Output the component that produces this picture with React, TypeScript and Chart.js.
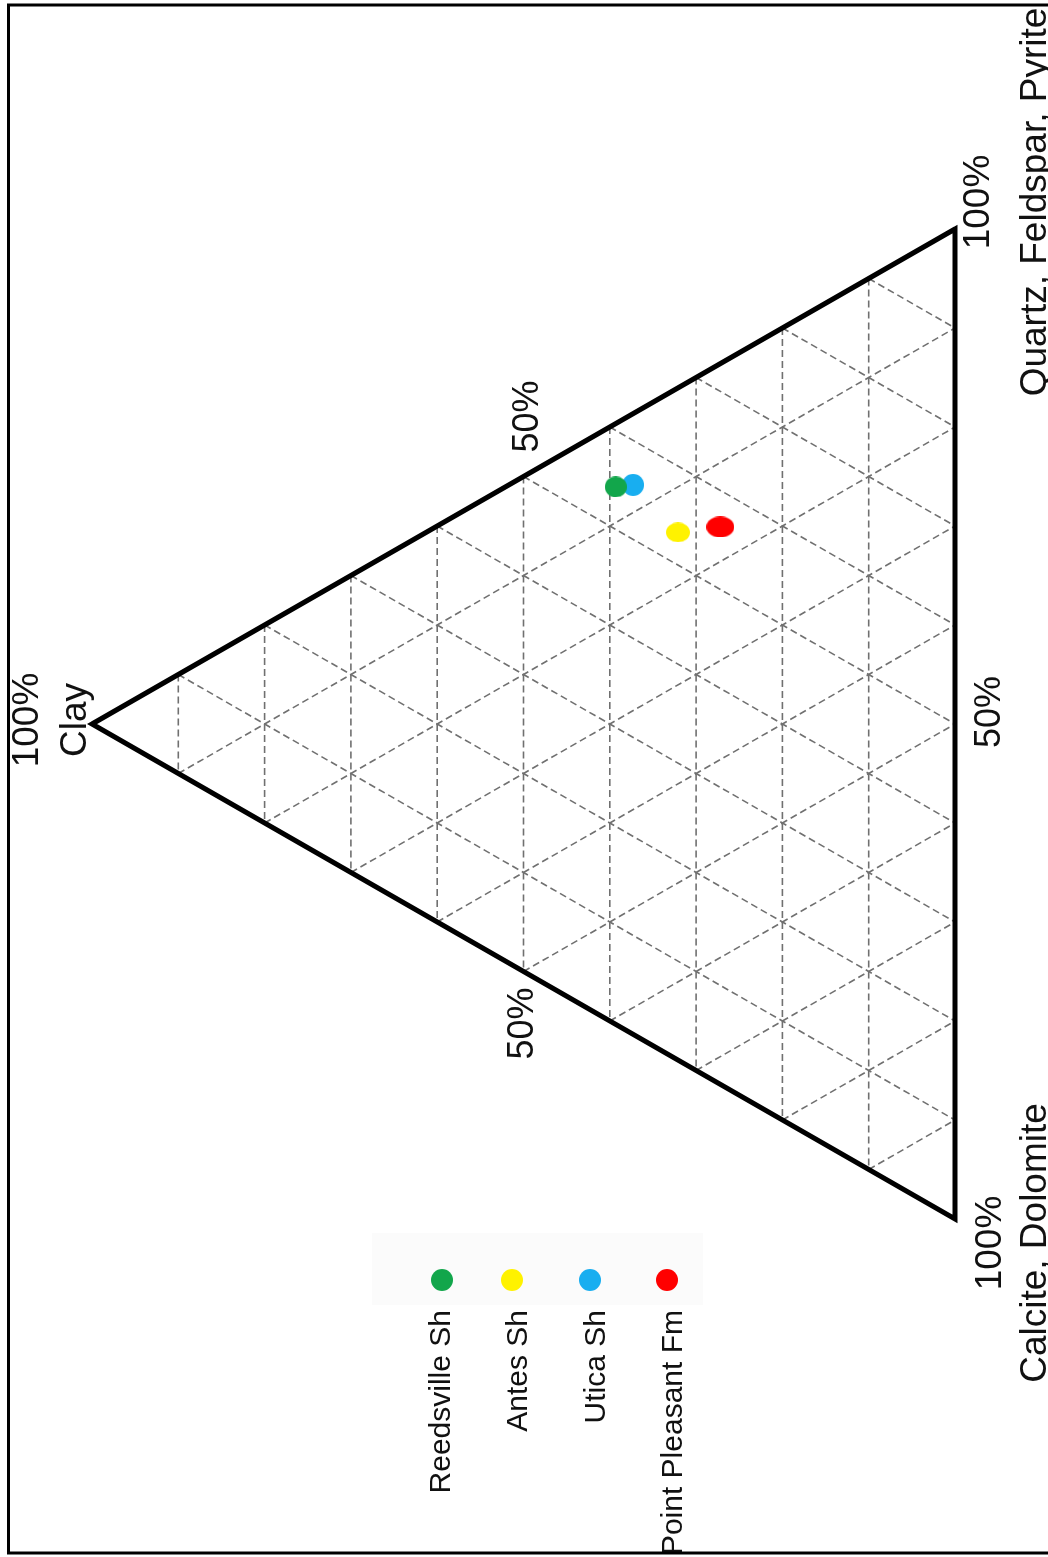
import React, { useEffect, useRef } from "react";
import { Chart, registerables } from "chart.js";

Chart.register(...registerables);

// ---- Data (percent composition) ----
const samples = ["Reedsville Sh", "Antes Sh", "Utica Sh", "Point Pleasant Fm"];
const clayPct = [39.3, 32.1, 37.3, 27.2];
const qfpPct = [54.3, 53.3, 55.5, 56.3];
const carbPct = [6.4, 14.6, 7.2, 16.5];
const sampleColors = ["#12a64b", "#fff200", "#18aef0", "#ff0000"];
// marker sizes (w, h) in px
const markerW = [22, 24, 22, 28];
const markerH = [21, 20, 22, 21];

const gridPct = [10, 20, 30, 40, 50, 60, 70, 80, 90];
const vertexNames = ["Clay", "Quartz, Feldspar, Pyrite", "Calcite, Dolomite"];
const vertexPct = "100%";
const sideLabel = "50%";

// ternary -> cartesian (Clay at left, QFP top-right, carbonate bottom-right)
function toXY(c: number, q: number, k: number) {
  const s = c + q + k;
  return { x: (q + k) / s, y: (0.5 * c + q) / s };
}

const FONT = '"Liberation Sans", Arial, Helvetica, sans-serif';

function vtext(ctx: CanvasRenderingContext2D, text: string, x: number, y: number, size: number, align: CanvasTextAlign) {
  ctx.save();
  ctx.translate(x, y);
  ctx.rotate(-Math.PI / 2);
  ctx.font = `${size}px ${FONT}`;
  ctx.textAlign = align;
  ctx.textBaseline = "alphabetic";
  ctx.fillStyle = "#111111";
  ctx.fillText(text, 0, 0);
  ctx.restore();
}

function makeMarker(color: string, w: number, h: number) {
  const cv = document.createElement("canvas");
  cv.width = w;
  cv.height = h;
  const c = cv.getContext("2d")!;
  c.fillStyle = color;
  c.beginPath();
  c.ellipse(w / 2, h / 2, w / 2, h / 2, 0, 0, Math.PI * 2);
  c.fill();
  return cv;
}

const decorPlugin = {
  id: "ternaryDecor",
  beforeDraw(chart: any) {
    const ctx: CanvasRenderingContext2D = chart.ctx;
    ctx.save();
    ctx.fillStyle = "#ffffff";
    ctx.fillRect(0, 0, chart.width, chart.height);
    // legend background
    ctx.fillStyle = "#fbfbfb";
    ctx.fillRect(372, 1233, 331, 72);
    ctx.restore();
  },
  afterDraw(chart: any) {
    const ctx: CanvasRenderingContext2D = chart.ctx;
    const xs = chart.scales.x;
    const ys = chart.scales.y;
    const px = (c: number, q: number, k: number) => {
      const p = toXY(c, q, k);
      return [xs.getPixelForValue(p.x), ys.getPixelForValue(p.y)];
    };
    const clayV = px(100, 0, 0);
    const qV = px(0, 100, 0);
    const kV = px(0, 0, 100);
    const mCQ = px(50, 50, 0);
    const mCK = px(50, 0, 50);
    const mQK = px(0, 50, 50);

    ctx.save();
    ctx.beginPath();
    ctx.rect(10, 6, chart.width, 1546);
    ctx.clip();

    // vertex labels
    vtext(ctx, vertexPct, clayV[0] - 54, clayV[1] - 4, 37, "center");
    vtext(ctx, vertexNames[0], clayV[0] - 6, clayV[1] - 4, 37, "center");
    vtext(ctx, vertexPct, qV[0] + 34, qV[1] - 27, 37, "center");
    vtext(ctx, vertexNames[1], qV[0] + 91, qV[1] - 27, 37, "center");
    vtext(ctx, vertexPct, kV[0] + 46, kV[1] + 24, 37, "center");
    vtext(ctx, vertexNames[2], kV[0] + 91, kV[1] + 24, 37, "center");

    // side labels
    vtext(ctx, sideLabel, mCQ[0] + 14, mCQ[1] - 60, 36, "center");
    vtext(ctx, sideLabel, mCK[0] + 9, mCK[1] + 52, 36, "center");
    vtext(ctx, sideLabel, mQK[0] + 45, mQK[1] - 12, 36, "center");

    // legend
    const legX = [450, 527, 605, 682];
    samples.forEach((name, i) => {
      ctx.fillStyle = sampleColors[i];
      ctx.beginPath();
      ctx.arc(legX[i] - (i === 0 ? 8 : 15), 1280, 11, 0, Math.PI * 2);
      ctx.fill();
      vtext(ctx, name, legX[i], 1310, 30, "right");
    });
    ctx.restore();

    // frame
    ctx.save();
    ctx.strokeStyle = "#000";
    ctx.lineWidth = 3;
    ctx.strokeRect(8.5, 5, 1100, 1548);
    ctx.restore();
  },
};

export default function App() {
  const ref = useRef<HTMLCanvasElement | null>(null);

  useEffect(() => {
    if (!ref.current) return;
    const datasets: any[] = [];

    // sample points
    samples.forEach((name, i) => {
      const p = toXY(clayPct[i], qfpPct[i], carbPct[i]);
      datasets.push({
        label: name,
        data: [p],
        showLine: false,
        pointStyle: makeMarker(sampleColors[i], markerW[i], markerH[i]),
        pointRadius: 11,
        order: 0,
      });
    });

    // triangle outline (extra point so every corner gets a mitred join)
    const tri = [toXY(100, 0, 0), toXY(0, 100, 0), toXY(0, 0, 100), toXY(100, 0, 0), toXY(0, 100, 0)];
    datasets.push({
      label: "frame",
      data: tri,
      showLine: true,
      borderColor: "#000",
      borderWidth: 5,
      borderJoinStyle: "miter",
      pointRadius: 0,
      tension: 0,
      fill: false,
      order: 1,
    });

    // grid
    const gridLine = (a: any, b: any) => ({
      label: "grid",
      data: [a, b],
      showLine: true,
      borderColor: "#707070",
      borderWidth: 1.6,
      borderDash: [7, 4],
      pointRadius: 0,
      fill: false,
      order: 2,
    });
    gridPct.forEach((g) => {
      datasets.push(gridLine(toXY(g, 100 - g, 0), toXY(g, 0, 100 - g)));
      datasets.push(gridLine(toXY(100 - g, g, 0), toXY(0, g, 100 - g)));
      datasets.push(gridLine(toXY(100 - g, 0, g), toXY(0, 100 - g, g)));
    });

    const chart = new Chart(ref.current, {
      type: "scatter",
      data: { datasets },
      options: {
        animation: false,
        responsive: false,
        maintainAspectRatio: false,
        events: [],
        layout: { padding: 0, autoPadding: false },
        plugins: { legend: { display: false }, tooltip: { enabled: false } },
        scales: {
          x: { type: "linear", min: -92 / 863, max: (1048 - 92) / 863, display: false },
          y: { type: "linear", min: (1219 - 1557) / 990, max: 1219 / 990, display: false },
        },
      },
      plugins: [decorPlugin],
    } as any);
    return () => chart.destroy();
  }, []);

  return (
    <div style={{ position: "absolute", left: 0, top: 0, width: 1048, height: 1557 }}>
      <canvas ref={ref} width={1048} height={1557} style={{ display: "block", width: 1048, height: 1557 }} />
    </div>
  );
}
